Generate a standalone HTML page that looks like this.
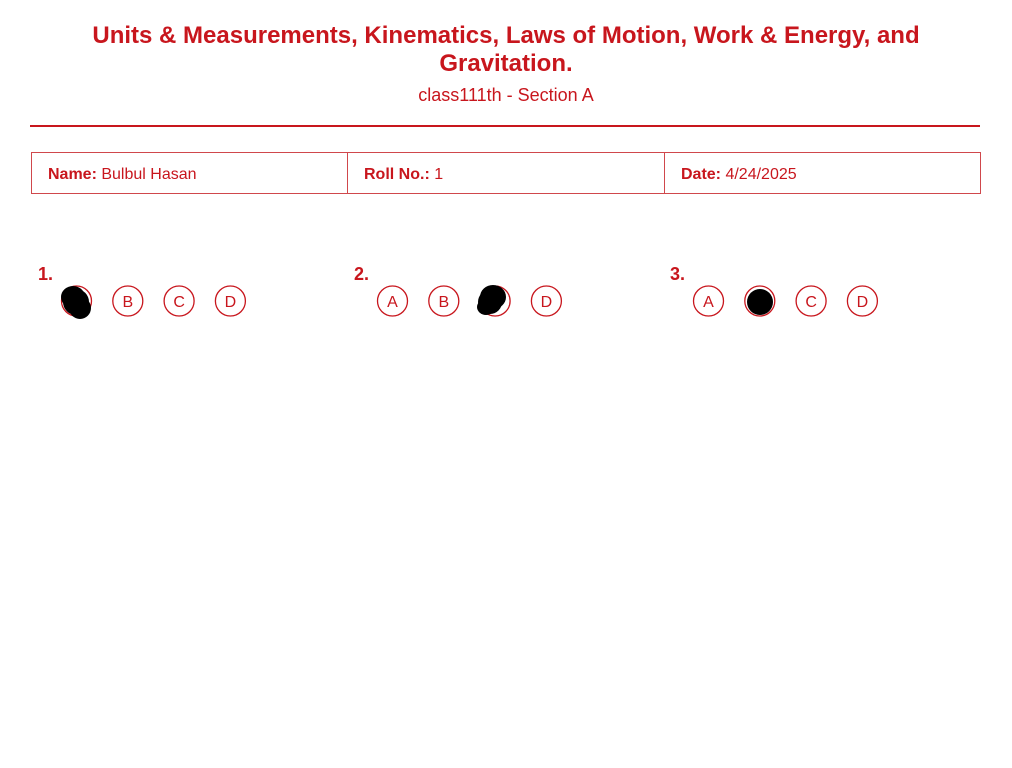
<!DOCTYPE html>
<html><head><meta charset="utf-8"><style>
body{margin:0;width:1012px;height:768px;background:#fff;font-family:"Liberation Sans",Arial,sans-serif;color:#c8161d;position:relative;overflow:hidden}
.t{position:absolute;left:0;width:1012px;text-align:center}
h1{margin:0;font-size:24px;font-weight:bold;line-height:28px}
.box{position:absolute;top:152px;height:40px;border:1px solid #d0484c;box-sizing:content-box}
.box span{position:absolute;left:16px;top:13px;font-size:16px}
</style></head><body>
<div class="t" style="top:22px"><h1>Units &amp; Measurements, Kinematics, Laws of Motion, Work &amp; Energy, and<br>Gravitation.</h1></div>
<div class="t" style="top:85px;font-size:18px">class111th - Section A</div>
<div style="position:absolute;left:30px;top:125px;width:950px;height:2px;background:#c8161d"></div>
<div class="box" style="left:31px;width:315px"><span><b>Name:</b> Bulbul Hasan</span></div>
<div class="box" style="left:347px;width:316px"><span><b>Roll No.:</b> 1</span></div>
<div class="box" style="left:664px;width:315px"><span><b>Date:</b> 4/24/2025</span></div>
<svg id="s" width="1012" height="768" style="position:absolute;left:0;top:0"></svg>
<script>
const questions=["1.","2.","3."];
const qX=[38,354,670];
const options=["A","B","C","D"];
const NS="http://www.w3.org/2000/svg";
const s=document.getElementById('s');
function el(t,a){const e=document.createElementNS(NS,t);for(const k in a)e.setAttribute(k,a[k]);s.appendChild(e);return e;}
questions.forEach((q,i)=>{
 const t=el('text',{x:qX[i],y:280,fill:'#c8161d','font-size':18,'font-weight':'bold','font-family':'Liberation Sans, sans-serif'});
 t.textContent=q;
 
 
 options.forEach((o,j)=>{
  const cx=qX[i]+38.5+j*51.3;
  const c=el('circle',{cx:cx,cy:301,r:15,fill:'#fff',stroke:'#c8161d','stroke-width':1.3});
  
  
  const l=el('text',{x:cx,y:307,fill:'#c8161d','font-size':16,'text-anchor':'middle','font-family':'Liberation Sans, sans-serif'});
  l.textContent=o;
  
  
 });
});
function blob(parts,name){const g=el('g',{fill:'#000'});parts.forEach(p=>{const c=document.createElementNS(NS,'ellipse');c.setAttribute('cx',p[0]);c.setAttribute('cy',p[1]);c.setAttribute('rx',p[2]);c.setAttribute('ry',p[3]);g.appendChild(c);});}
blob([[73,297,12,11],[80,308,11,11],[76,302,13,13]],'mark-q1');
blob([[493,297,13,12],[486,307,9,8],[490,302,12,12]],'mark-q2');
blob([[760,302,13,13]],'mark-q3');
</script>
</body></html>
